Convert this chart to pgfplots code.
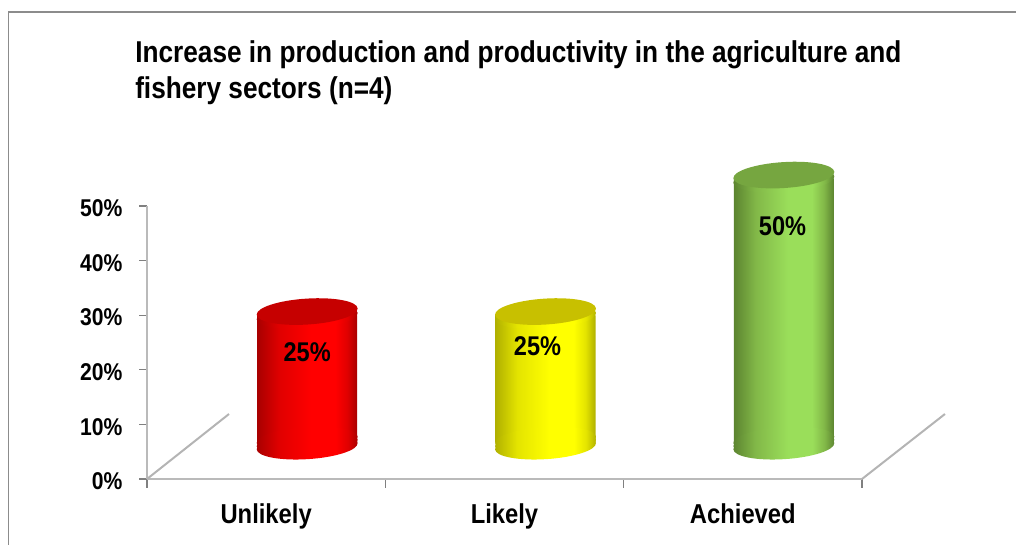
\documentclass[border=0pt]{standalone}
\usepackage{pgfplots}
\pgfplotsset{compat=1.18}
\usepackage{fontspec}
\setmainfont[FakeStretch=0.87]{Liberation Sans}

% 1 px of the reference = 0.75pt
\definecolor{framegray}{HTML}{8C8C8C}
\definecolor{axisgray}{HTML}{BABABA}
\definecolor{tickgray}{HTML}{808080}
\definecolor{floorgray}{HTML}{B4B4B4}

\definecolor{redEdge}{HTML}{A80000}
\definecolor{redMid}{HTML}{E00000}
\definecolor{redLight}{HTML}{FF0000}
\definecolor{redcap}{HTML}{C60000}
\definecolor{yelEdge}{HTML}{B0B000}
\definecolor{yelMid}{HTML}{E4E400}
\definecolor{yelLight}{HTML}{FFFF00}
\definecolor{yelcap}{HTML}{C8C000}
\definecolor{greEdge}{HTML}{5C8430}
\definecolor{greMid}{HTML}{82B848}
\definecolor{greLight}{HTML}{9ADE5A}
\definecolor{grecap}{HTML}{76A640}

% tilted ellipse of the cylinder, centre shifted by #1 in y
\newcommand\cylell[1]{\pgfpathellipse{\pgfpoint{0pt}{#1}}{\pgfqpoint{37.85pt}{2.4pt}}{\pgfqpoint{-0.6pt}{9.7pt}}}
\newcommand\defcyl[1]{%
  \pgfdeclarehorizontalshading{#1cyl}{100bp}{%
    color(0bp)=(#1Edge); color(25bp)=(#1Edge); color(36bp)=(#1Mid);
    color(52bp)=(#1Light); color(64bp)=(#1Light); color(70bp)=(#1Mid);
    color(75bp)=(#1Edge); color(100bp)=(#1Edge)}%
  \pgfdeclareplotmark{#1top}{%
    \begin{pgfscope}\cylell{-4.2pt}\pgfshadepath{#1cyl}{0}\pgfusepath{discard}\end{pgfscope}%
    \begin{pgfscope}\cylell{-0.8pt}\pgfsetfillcolor{#1cap}\pgfusepathqfill\end{pgfscope}}%
  \pgfdeclareplotmark{#1bot}{%
    \begin{pgfscope}\cylell{0.6pt}\pgfshadepath{#1cyl}{0}\pgfusepath{discard}\end{pgfscope}%
    \begin{pgfscope}\cylell{3pt}\pgfshadepath{#1cyl}{0}\pgfusepath{discard}\end{pgfscope}%
    \begin{pgfscope}\cylell{5.4pt}\pgfshadepath{#1cyl}{0}\pgfusepath{discard}\end{pgfscope}}%
}
\defcyl{red}
\defcyl{yel}
\defcyl{gre}

\pgfplotsset{
  cylbody/.style={ybar,bar width=75pt,bar shift=0pt,draw=none,rounded corners=4pt,shading=#1cyl},
  cyllabel/.style n args={2}{
    nodes near coords={\pgfmathprintnumber{\pgfplotspointmeta}\%},
    every node near coord/.append style={anchor=center,font=\fontsize{20.3}{22}\selectfont\bfseries,
      text=black,xshift=#1,yshift=#2},
  },
}

\begin{document}
\begin{tikzpicture}
  \path[use as bounding box] (0pt,0pt) rectangle (762pt,408.75pt);
  \draw[framegray,line width=1.2pt] (6.3pt,-1pt) -- (6.3pt,399.6pt) -- (763pt,399.6pt);
  \node[anchor=north west,align=left,inner sep=0pt,
    font=\fontsize{22.6}{27}\selectfont\bfseries] at (101.25pt,378.2pt)
    {Increase in production and productivity in the agriculture and\\fishery sectors (n=4)};

  % walls and ticks
  \begin{axis}[
    at={(110.25pt,49.5pt)},scale only axis,width=536.25pt,height=204.75pt,
    xmin=0,xmax=3,ymin=0,ymax=50,clip=false,
    axis x line*=bottom,axis y line*=left,
    axis line style={axisgray,line width=2.2pt,-},
    xtick={0.5,1.5,2.5},xticklabels={Unlikely,Likely,Achieved},
    minor xtick={0,1,2,3},
    ytick={0,10,20,30,40,50},
    yticklabel={\pgfmathprintnumber{\tick}\%},
    /pgf/number format/assume math mode=true,
    tick align=outside,
    major tick length=6pt,
    minor tick length=6.5pt,
    xtick style={draw=none},
    minor x tick style={draw=tickgray,line width=1pt},
    ytick style={draw=tickgray,line width=1pt},
    yticklabel style={font=\fontsize{18.2}{20}\selectfont\bfseries,xshift=-9pt,yshift=-1.7pt},
    xticklabel style={font=\fontsize{20.5}{22}\selectfont\bfseries,yshift=-9pt},
  ]
    \addplot[floorgray,line width=1.5pt] coordinates {(0,0) (0.344,11.9)};
    \addplot[floorgray,line width=1.5pt] coordinates {(3,0) (3.348,11.9)};
  \end{axis}

  % cylinders, drawn on the raised floor
  \begin{axis}[
    at={(141pt,73.5pt)},scale only axis,width=536.25pt,height=204.75pt,
    xmin=0,xmax=3,ymin=0,ymax=50,clip=false,hide axis,
    /pgf/number format/assume math mode=true,
  ]
    \addplot[only marks,mark=redbot] coordinates {(0.5,0)};
    \addplot[cylbody=red] coordinates {(0.5,25)};
    \addplot[only marks,mark=redtop,cyllabel={0pt}{-31pt}] coordinates {(0.5,25)};

    \addplot[only marks,mark=yelbot] coordinates {(1.5,0)};
    \addplot[cylbody=yel] coordinates {(1.5,25)};
    \addplot[only marks,mark=yeltop,cyllabel={-6pt}{-27pt}] coordinates {(1.5,25)};

    \addplot[only marks,mark=grebot] coordinates {(2.5,0)};
    \addplot[cylbody=gre] coordinates {(2.5,50)};
    \addplot[only marks,mark=gretop,cyllabel={-1pt}{-39pt}] coordinates {(2.5,50)};
  \end{axis}
\end{tikzpicture}
\end{document}
